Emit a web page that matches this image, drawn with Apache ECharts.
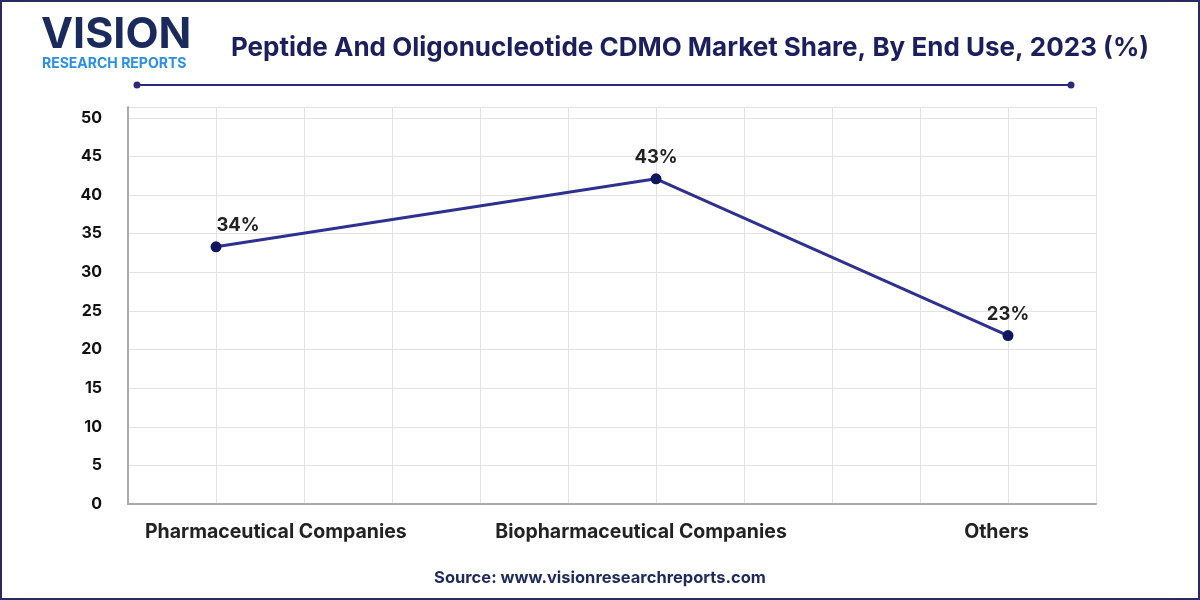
<!DOCTYPE html>
<html>
<head>
<meta charset="utf-8">
<script src="https://cdn.jsdelivr.net/npm/echarts@6/dist/echarts.min.js"></script>
<style>
html,body{margin:0;padding:0;background:#fff;}
#chart{width:1200px;height:600px;}
</style>
</head>
<body>
<div id="chart"></div>
<script>
// Data
var categories = ['Pharmaceutical Companies', 'Biopharmaceutical Companies', 'Others'];
var pointX = [1, 6, 10];            // position of each point on the 0–11 grid
var values = [33.3, 42.1, 21.8];   // plotted values
var valueLabels = ['34%', '43%', '23%'];
var categoryLabelX = [1.68, 5.83, 9.87];
var yTicks = [0, 5, 10, 15, 20, 25, 30, 35, 40, 45, 50];

var chart = echarts.init(document.getElementById('chart'));
var navy = '#1c1f5e';

var seriesData = values.map(function (v, i) {
  var item = { value: [pointX[i], v] };
  if (i === 0) item.label = { offset: [22, 0] };
  return item;
});

var option = {
  animation: false,
  backgroundColor: '#fff',
  grid: { left: 128, right: 104, top: 107, bottom: 96 },
  xAxis: {
    type: 'value', min: 0, max: 11, interval: 1,
    axisLine: { show: true, onZero: false, lineStyle: { color: '#aaaaaa', width: 2 } },
    axisTick: { show: false },
    splitLine: { show: true, lineStyle: { color: '#e2e2e2', width: 1 } },
    axisLabel: {
      customValues: categoryLabelX,
      margin: 18,
      color: '#222',
      fontFamily: 'Inter',
      fontWeight: 'bold',
      fontSize: 19.5,
      formatter: function (val) {
        var best = 0, d = 1e9;
        for (var i = 0; i < categoryLabelX.length; i++) {
          var dd = Math.abs(categoryLabelX[i] - val);
          if (dd < d) { d = dd; best = i; }
        }
        return categories[best];
      }
    }
  },
  yAxis: {
    type: 'value', min: 0, max: 51.4, interval: 5, offset: 6,
    axisLine: { show: true, lineStyle: { color: '#aaaaaa', width: 2 } },
    axisTick: { show: false },
    splitLine: { show: true, lineStyle: { color: '#e2e2e2', width: 1 } },
    axisLabel: {
      margin: 20,
      color: '#111',
      fontFamily: 'Inter',
      fontWeight: 'bold',
      fontSize: 16,
      formatter: function (v) { return yTicks.indexOf(v) >= 0 ? String(v) : ''; }
    }
  },
  series: [{
    type: 'line',
    data: seriesData,
    symbol: 'circle',
    symbolSize: 11,
    lineStyle: { color: '#2e3190', width: 3 },
    itemStyle: { color: '#0e1660' },
    label: {
      show: true,
      position: 'top',
      distance: 6,
      color: '#222',
      fontFamily: 'Inter',
      fontWeight: 'bold',
      fontSize: 18.5,
      formatter: function (p) { return valueLabels[p.dataIndex]; }
    }
  }],
  graphic: [
    { type: 'rect', shape: { x: 1, y: 1, width: 1198, height: 598 }, style: { fill: 'none', stroke: '#2a2a60', lineWidth: 2 }, silent: true },
    { type: 'text', left: 41, top: 14, style: { text: 'VISION', fill: '#1b2a5c', font: 'bold 43px "Inter"' } },
    { type: 'text', left: 42, top: 57, style: { text: 'RESEARCH REPORTS', fill: '#2a8fe8', font: 'bold 14px "Inter"' } },
    { type: 'text', x: 690, y: 48, style: { text: 'Peptide And Oligonucleotide CDMO Market Share, By End Use, 2023 (%)', fill: navy, font: 'bold 26px "Inter"', align: 'center', verticalAlign: 'middle' } },
    { type: 'line', shape: { x1: 137, y1: 85, x2: 1071, y2: 85 }, style: { stroke: '#2a2a78', lineWidth: 2 } },
    { type: 'circle', shape: { cx: 137, cy: 85, r: 3.5 }, style: { fill: '#2a2a78' } },
    { type: 'circle', shape: { cx: 1071, cy: 85, r: 3.5 }, style: { fill: '#2a2a78' } },
    { type: 'text', x: 600, y: 578, style: { text: 'Source: www.visionresearchreports.com', fill: '#1f2a5c', font: 'bold 16.5px "Inter"', align: 'center', verticalAlign: 'middle' } }
  ]
};
chart.setOption(option);
</script>
</body>
</html>
